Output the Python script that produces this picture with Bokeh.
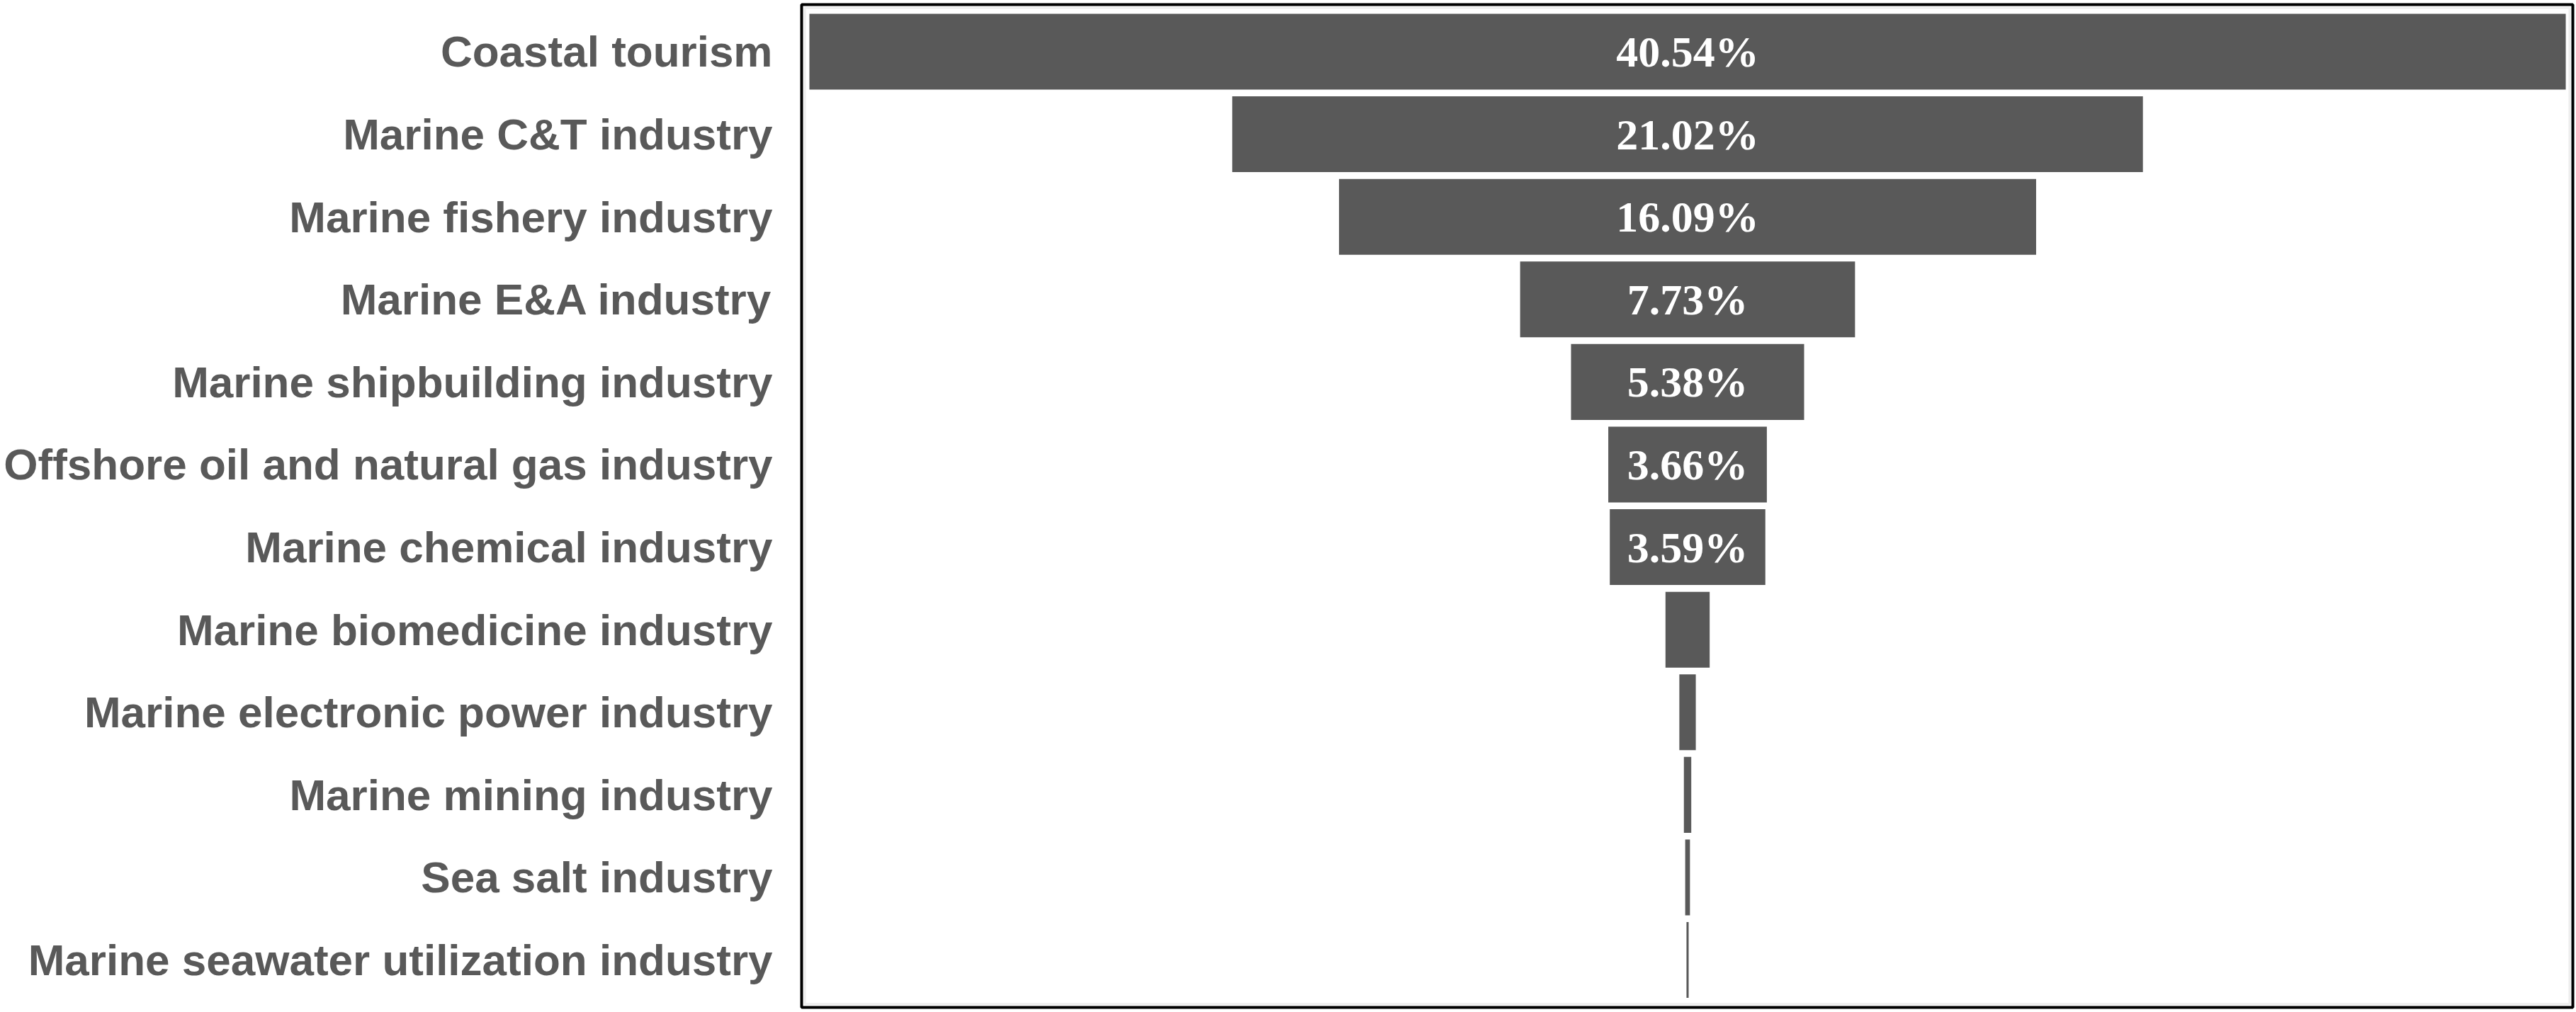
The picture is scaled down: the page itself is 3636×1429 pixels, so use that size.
from bokeh.plotting import figure
from bokeh.models import Range1d, FixedTicker, ColumnDataSource, BoxAnnotation
from bokeh.core.properties import value
from bokeh.embed import file_html
from bokeh.resources import INLINE

# ---- data ----
industries = [
    "Coastal tourism",
    "Marine C&T industry",
    "Marine fishery industry",
    "Marine E&A industry",
    "Marine shipbuilding industry",
    "Offshore oil and natural gas industry",
    "Marine chemical industry",
    "Marine biomedicine industry",
    "Marine electronic power industry",
    "Marine mining industry",
    "Sea salt industry",
    "Marine seawater utilization industry",
]
shares = [40.54, 21.02, 16.09, 7.73, 5.38, 3.66, 3.59, 1.02, 0.38, 0.17, 0.11, 0.05]
label_threshold = 3.5

# ---- derived ----
idx = list(range(len(industries)))
src = ColumnDataSource(dict(
    y=idx,
    left=[-v / 2 for v in shares],
    right=[v / 2 for v in shares],
    lab=[f"{v:.2f}%" if v >= label_threshold else "" for v in shares],
    x=[0] * len(shares),
))

GREY = "#595959"
X0, X1 = -20.449, 20.433
Y_BOTTOM, Y_TOP = 11.574, -0.570

p = figure(
    width=3636, height=1429,
    x_range=Range1d(X0, X1),
    y_range=Range1d(Y_BOTTOM, Y_TOP),
    x_axis_location=None,
    toolbar_location=None,
    output_backend="svg",
    min_border_left=1131, min_border_right=5,
    min_border_top=6, min_border_bottom=7,
)
p.grid.visible = False
p.outline_line_color = "black"
p.outline_line_width = 4
p.background_fill_color = "white"
p.border_fill_color = "white"

# inner light shadow line of the frame
p.add_layout(BoxAnnotation(left=X0 + 0.075, right=X1 - 0.075,
                           top=Y_TOP + 0.04, bottom=Y_BOTTOM - 0.04,
                           fill_alpha=0, line_color="#c8c8c8", line_width=3))

p.hbar(y="y", left="left", right="right", height=0.918, source=src,
       fill_color=GREY, line_color=None)

p.text(x="x", y="y", text="lab", source=src,
       text_align="center", text_baseline="middle",
       text_font=value("Liberation Serif"), text_font_style="bold",
       text_font_size="62px", text_color="white")

ax = p.yaxis[0]
ax.ticker = FixedTicker(ticks=idx)
ax.major_label_overrides = {i: n for i, n in zip(idx, industries)}
ax.axis_line_color = None
ax.major_tick_line_color = None
ax.minor_tick_line_color = None
ax.major_tick_out = 0
ax.major_tick_in = 0
ax.major_label_standoff = 41
ax.major_label_text_font = "Liberation Sans"
ax.major_label_text_font_style = "bold"
ax.major_label_text_font_size = "62px"
ax.major_label_text_color = GREY

open("out.html", "w").write(file_html(p, INLINE))
